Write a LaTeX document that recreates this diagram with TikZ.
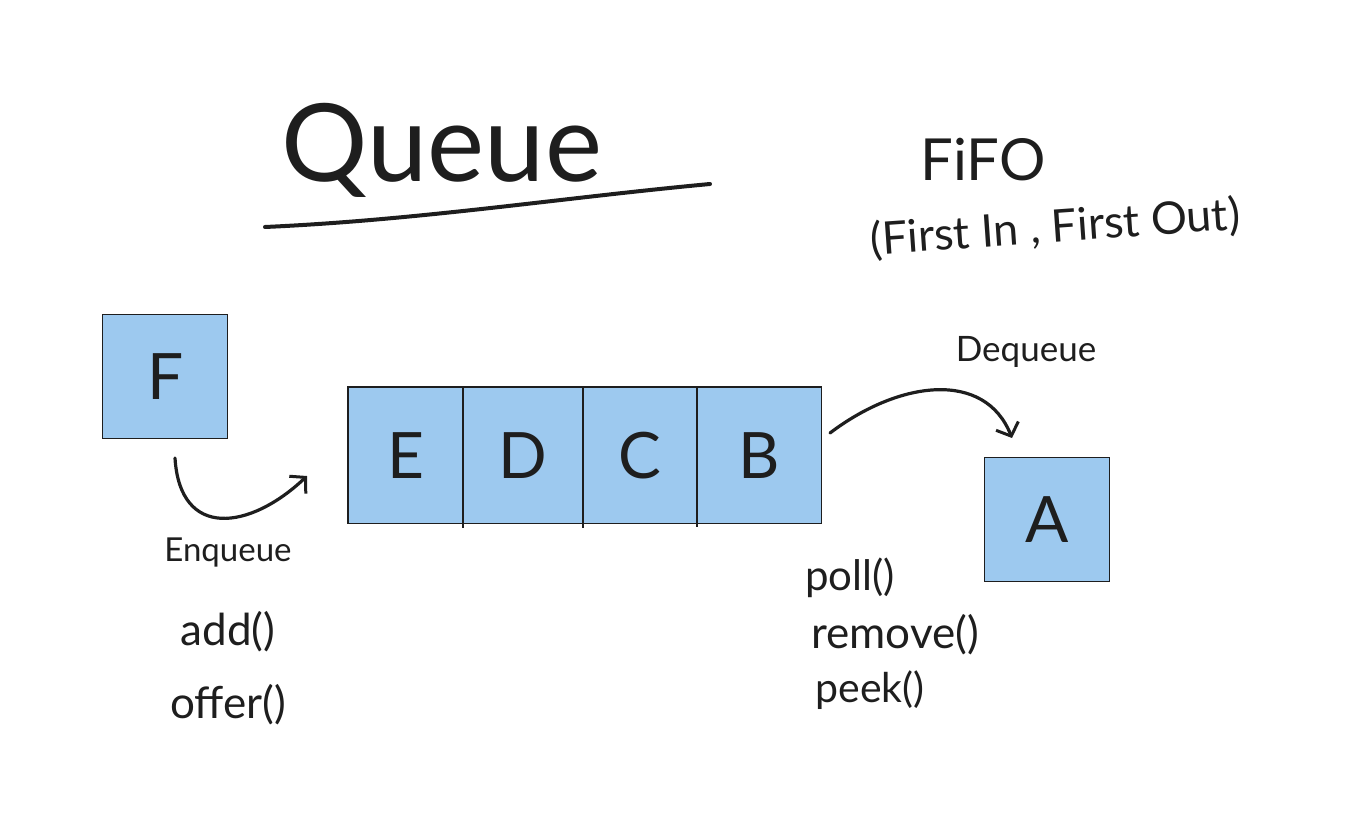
\documentclass[tikz,border=0pt]{standalone}
\usepackage{fontspec}
\setmainfont{Lato}
\usetikzlibrary{arrows.meta}
\definecolor{cellblue}{RGB}{157,201,239}
\definecolor{ink}{RGB}{30,30,30}
\tikzset{
  cell/.style={fill=cellblue, draw=ink, line width=1.4pt, inner sep=0pt, anchor=north west, font=\fontsize{64}{64}\selectfont, text=ink},
  hand/.style={text=ink, inner sep=0pt},
  stroke/.style={ink, line width=3.2pt, line cap=round, line join=round},
  barb/.style={-{Straight Barb[length=11pt,width=24pt,line width=3pt]}}
}
\begin{document}
\begin{tikzpicture}[x=1pt,y=-1pt]
\useasboundingbox (0,0) rectangle (1347,824);
% title
\node[hand, font=\fontsize{108}{110}\selectfont] (title) at (442,150) {Queue};
\coordinate (ul1) at (265,227);
\coordinate (ul2) at (710,184);
\draw[stroke, line width=4pt] (ul1) .. controls (420,220) and (560,198) .. (ul2);
% FIFO
\node[hand, font=\fontsize{58}{60}\selectfont] (fifo) at (983,160) {FiFO};
\node[hand, font=\fontsize{45}{47}\selectfont, rotate=4] (fifolong) at (1055,228) {(First In , First Out)};
% boxes
\node[cell, minimum width=125pt, minimum height=124pt] (F) at (102,314) {F};
\node[cell, draw=none, minimum width=114pt, minimum height=135pt] (E) at (348,387) {E};
\node[cell, draw=none, minimum width=120pt, minimum height=135pt] (D) at (462,387) {D};
\node[cell, draw=none, minimum width=114pt, minimum height=135pt] (C) at (582,387) {C};
\node[cell, draw=none, minimum width=124pt, minimum height=135pt] (B) at (696,387) {B};
\draw[ink, line width=1.4pt] (E.north west) rectangle (B.south east);
\draw[ink, line width=2pt] (E.north east) -- ([yshift=-5pt]E.south east);
\draw[ink, line width=2pt] (D.north east) -- ([yshift=-5pt]D.south east);
\draw[ink, line width=2pt] (C.north east) -- ([yshift=-4pt]C.south east);
\node[cell, minimum width=125pt, minimum height=124pt] (A) at (984,457) {A};
% arrows
\coordinate (enqS) at (175,458);
\coordinate (enqE) at (307,476);
\draw[stroke, barb] (enqS) .. controls (180,540) and (250,530) .. (enqE);
\coordinate (deqS) at (830,433);
\coordinate (deqE) at (1012,438);
\draw[stroke, barb] (deqS) .. controls (900,380) and (985,370) .. (deqE);
% labels
\node[hand, font=\fontsize{35}{37}\selectfont] (deq) at (1026,352) {Dequeue};
\node[hand, font=\fontsize{33}{35}\selectfont] (enq) at (228,553) {Enqueue};
\node[hand, font=\fontsize{44}{46}\selectfont] (add) at (228,632) {add()};
\node[hand, font=\fontsize{44}{46}\selectfont] (offer) at (228,705) {offer()};
\node[hand, font=\fontsize{42}{44}\selectfont] (poll) at (850,578) {poll()};
\node[hand, font=\fontsize{44}{46}\selectfont] (remove) at (895,635) {remove()};
\node[hand, font=\fontsize{41}{43}\selectfont] (peek) at (870,690) {peek()};
\end{tikzpicture}
\end{document}
